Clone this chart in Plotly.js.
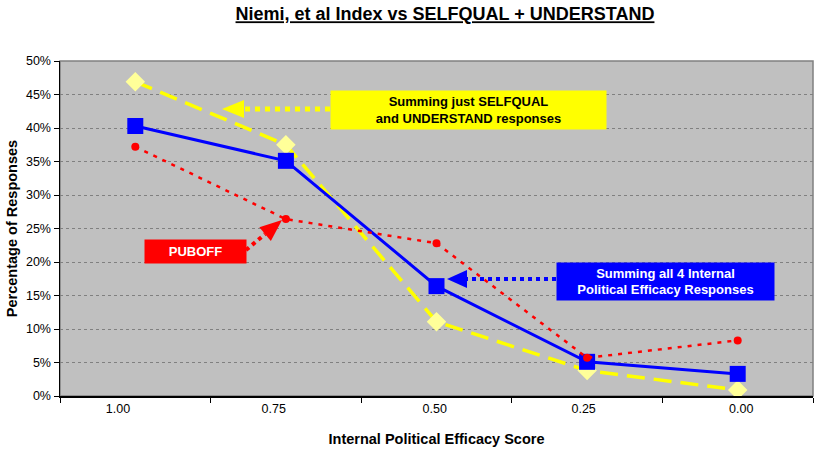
<!DOCTYPE html>
<html>
<head>
<meta charset="utf-8">
<script src="https://cdn.plot.ly/plotly-3.0.1.min.js"></script>
<style>html,body{margin:0;padding:0;background:#fff;}#chart{width:818px;height:450px;}</style>
</head>
<body>
<div id="chart"></div>
<script>
// Data
const categories = ["1.00", "0.75", "0.50", "0.25", "0.00"];
const allFour = [40.3, 35.1, 16.4, 5.1, 3.3];          // blue squares
const selfqualUnderstand = [46.9, 37.5, 11.1, 3.8, 0.9]; // yellow diamonds
const puboff = [37.2, 26.4, 22.8, 5.7, 8.3];          // red dots
const yTickVals = [0, 5, 10, 15, 20, 25, 30, 35, 40, 45, 50];
const yTickText = yTickVals.map(v => v + "%");

// label padding (in non-breaking spaces) to mimic original label placement
const padRight = [10, 7, 1, 2, 0];
const padLeft = [0, 0, 0, 0, 2];
const NB = "\u00a0";
const xTickText = categories.map((c, i) => NB.repeat(padLeft[i]) + c + NB.repeat(padRight[i]));

// layout geometry (pixels)
const L = 60, R = 5, T = 61, B = 54, WIDTH = 818, HEIGHT = 450;
const PW = WIDTH - L - R, PH = HEIGHT - T - B;
const px = x => (x - L) / PW;
const py = y => (HEIGHT - B - y) / PH;

function arrow(x0, y0, x1, y1, color, width, dash, headLen, headHalf) {
  const dx = x1 - x0, dy = y1 - y0, d = Math.hypot(dx, dy);
  const ux = dx / d, uy = dy / d;
  const bx = x1 - ux * headLen, by = y1 - uy * headLen;
  const nx = -uy, ny = ux;
  const p1 = [bx + nx * headHalf, by + ny * headHalf];
  const p2 = [bx - nx * headHalf, by - ny * headHalf];
  return [
    {type: "line", xref: "paper", yref: "paper", x0: px(x0), y0: py(y0), x1: px(bx), y1: py(by),
     line: {color: color, width: width, dash: dash}, layer: "above"},
    {type: "path", xref: "paper", yref: "paper",
     path: `M ${px(x1)} ${py(y1)} L ${px(p1[0])} ${py(p1[1])} L ${px(p2[0])} ${py(p2[1])} Z`,
     fillcolor: color, line: {color: color, width: 0}, layer: "above"}
  ];
}

const traces = [
  {x: categories, y: selfqualUnderstand, type: "scatter", mode: "lines+markers",
   line: {color: "#ffff00", width: 3.5, dash: "18px,9px"},
   marker: {symbol: "diamond", size: 15, color: "#ffff99", line: {width: 0}}, hoverinfo: "skip"},
  {x: categories, y: allFour, type: "scatter", mode: "lines+markers",
   line: {color: "#0000ff", width: 3},
   marker: {symbol: "square", size: 16, color: "#0000ff", line: {width: 0}}, hoverinfo: "skip"},
  {x: categories, y: puboff, type: "scatter", mode: "lines+markers",
   line: {color: "#ff0000", width: 2.5, dash: "4px,6px"},
   marker: {symbol: "circle", size: 8, color: "#ff0000", line: {width: 0}}, hoverinfo: "skip"}
];

const shapes = [
  {type: "rect", xref: "paper", yref: "paper", x0: 0, y0: 0, x1: 1, y1: 1,
   line: {color: "#808080", width: 1.5}, layer: "below"},
  ...arrow(330, 109, 222, 109, "#ffff00", 5, "dot", 22, 9),
  ...arrow(556, 279, 447, 279, "#0000ff", 4, "dot", 20, 9),
  ...arrow(246, 250, 282, 220, "#ff0000", 4, "dot", 22, 9)
];

const boxFont = {family: "Liberation Sans, Arial, sans-serif", size: 13};
const annotations = [
  {xref: "paper", yref: "paper", x: px(330), y: py(90), xanchor: "left", yanchor: "top",
   width: 271, height: 34, bgcolor: "#ffff00", showarrow: false, borderpad: 2,
   text: "<b>Summing just SELFQUAL<br>and UNDERSTAND responses</b>",
   font: Object.assign({color: "#000000"}, boxFont), align: "center"},
  {xref: "paper", yref: "paper", x: px(556), y: py(262), xanchor: "left", yanchor: "top",
   width: 213, height: 33, bgcolor: "#0000ff", showarrow: false, borderpad: 2,
   text: "<b>Summing all 4 Internal<br>Political Efficacy Responses</b>",
   font: Object.assign({color: "#ffffff"}, boxFont), align: "center"},
  {xref: "paper", yref: "paper", x: px(144), y: py(239), xanchor: "left", yanchor: "top",
   width: 97, height: 19, bgcolor: "#ff0000", showarrow: false, borderpad: 2,
   text: "<b>PUBOFF</b>",
   font: Object.assign({color: "#ffffff"}, boxFont), align: "center"}
];

const layout = {
  width: WIDTH, height: HEIGHT,
  margin: {l: L, r: R, t: T, b: B, pad: 0},
  paper_bgcolor: "#ffffff", plot_bgcolor: "#c0c0c0",
  showlegend: false,
  font: {family: "Liberation Sans, Arial, sans-serif", color: "#000000"},
  title: {text: "<b><u>Niemi, et al Index vs SELFQUAL + UNDERSTAND</u></b>",
          font: {size: 18, color: "#000000"},
          xref: "container", yref: "container", x: 445 / 818, xanchor: "center",
          y: 1 - 14 / 450, yanchor: "middle"},
  xaxis: {type: "category", categoryorder: "array", categoryarray: categories,
          tickmode: "array", tickvals: categories, ticktext: xTickText,
          range: [-0.5, 4.5], tickson: "boundaries", ticks: "outside", ticklen: 5,
          tickcolor: "#000000", showgrid: false, zeroline: false,
          showline: true, linecolor: "#000000", linewidth: 1.5,
          tickfont: {size: 12.5, color: "#000000"},
          title: {text: "<b>Internal Political Efficacy Score</b>", font: {size: 14.5}, standoff: 19},
          fixedrange: true},
  yaxis: {range: [0, 50], tickvals: yTickVals, ticktext: yTickText,
          ticks: "outside", ticklen: 5, tickcolor: "#000000",
          showgrid: true, gridcolor: "#808080", gridwidth: 1, griddash: "3px,3px",
          zeroline: false, showline: true, linecolor: "#000000", linewidth: 1.5,
          tickfont: {size: 12.5, color: "#000000"},
          title: {text: "<b>Percentage of Responses</b>", font: {size: 14.5}, standoff: 5},
          fixedrange: true},
  shapes: shapes,
  annotations: annotations
};

Plotly.newPlot("chart", traces, layout, {staticPlot: true, displayModeBar: false});
</script>
</body>
</html>
